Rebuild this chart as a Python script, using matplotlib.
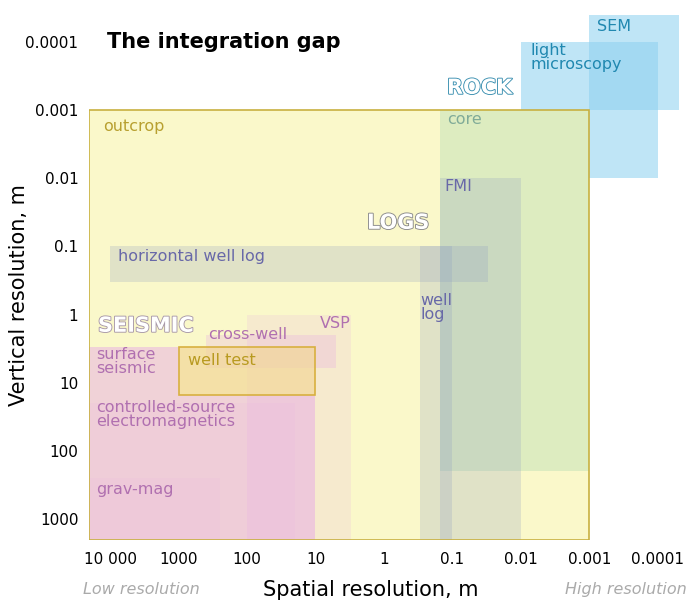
import matplotlib
matplotlib.use('Agg')
import matplotlib.pyplot as plt
import matplotlib.patheffects as pe
from matplotlib.patches import Rectangle


# Resolution windows of each method, in metres.
# Spatial goes coarse -> fine, vertical goes fine -> coarse.
methods = ['outcrop', 'surface seismic', 'cross-well', 'VSP', 'csem', 'grav-mag',
           'horizontal well log', 'well log', 'FMI', 'core',
           'light microscopy', 'thin section', 'SEM', 'well test']
groups = ['field', 'seismic', 'seismic', 'seismic', 'seismic', 'seismic',
          'logs', 'logs', 'logs', 'core', 'rock', 'rock', 'rock', 'test']
spatial_coarse = [2e4, 2e4, 400, 100, 2e4, 2e4, 1e4, 0.3, 0.15, 0.15, 0.01, 0.001, 0.001, 1000]
spatial_fine = [0.001, 10, 5, 3, 20, 250, 0.03, 0.1, 0.01, 0.001, 1e-4, 1e-4, 5e-5, 10]
vertical_fine = [0.001, 3, 2, 1, 20, 250, 0.1, 0.1, 0.01, 0.001, 1e-4, 0.001, 4e-5, 3]
vertical_coarse = [2000, 2000, 6, 2000, 2000, 2000, 0.33, 2000, 2000, 200, 0.001, 0.01, 0.001, 15]

# Text labels for the methods and where they sit (data coords, left / middle).
label_text = ['outcrop', 'core', 'FMI', 'horizontal well log', 'well\nlog', 'VSP',
              'cross-well', 'surface\nseismic', 'well test',
              'controlled-source\nelectromagnetics', 'grav-mag',
              'light\nmicroscopy', 'SEM']
label_group = ['field', 'core', 'logs', 'logs', 'logs', 'seismic',
               'seismic', 'seismic', 'test', 'seismic', 'seismic', 'rock', 'rock']
label_x = [12600, 0.12, 0.13, 7600, 0.29, 8.6, 370, 16000, 730, 16000, 16000, 0.0072, 0.00078]
label_y = [0.00176, 0.00135, 0.0134, 0.142, 0.79, 1.36, 1.98, 4.9, 4.8, 29, 370, 1.7e-4, 6e-5]

# Outlined group headings.
heading_text = ['ROCK', 'LOGS', 'SEISMIC']
heading_x = [0.12, 1.77, 15000]
heading_y = [4.7e-4, 0.045, 1.46]

x_ticks = [1e4, 1e3, 100, 10, 1, 0.1, 0.01, 0.001, 1e-4]
x_ticklabels = ['10 000', '1000', '100', '10', '1', '0.1', '0.01', '0.001', '0.0001']
y_ticks = [1e-4, 1e-3, 0.01, 0.1, 1, 10, 100, 1000]
y_ticklabels = ['0.0001', '0.001', '0.01', '0.1', '1', '10', '100', '1000']

STYLE = {
    'field': dict(face='#f6f08a', alpha=0.45, z=1, text='#b8a030'),
    'seismic': dict(face='#e08cf0', alpha=0.35, z=2, text='#b070b0'),
    'core': dict(face='#a8d8b0', alpha=0.35, z=3, text='#80ab98'),
    'logs': dict(face='#8898c0', alpha=0.22, z=4, text='#6868a8'),
    'rock': dict(face='#8cd0f0', alpha=0.55, z=3, text='#2088b0'),
    'test': dict(face='#f8ec80', alpha=0.55, z=5, text='#b89a20'),
}
# the seismic boxes stacked on surface seismic are only faintly tinted
ALPHA = {'cross-well': 0.2, 'VSP': 0.12, 'csem': 0.06, 'grav-mag': 0.06}
HEADING_COLOR = {'ROCK': '#3a8fb0', 'LOGS': '#8a8a8a', 'SEISMIC': '#a898a8'}
EDGE = {'field': '#c8b040', 'test': '#d8b040'}


def add_box(ax, i):
    st = STYLE[groups[i]]
    x0, x1 = spatial_fine[i], spatial_coarse[i]
    y0, y1 = vertical_fine[i], vertical_coarse[i]
    alpha = ALPHA.get(methods[i], st['alpha'])
    ax.add_patch(Rectangle((x0, y0), x1 - x0, y1 - y0, facecolor=st['face'],
                           alpha=alpha, edgecolor='none', zorder=st['z']))
    if groups[i] in EDGE:
        # outline goes on top of everything else
        ax.add_patch(Rectangle((x0, y0), x1 - x0, y1 - y0, facecolor='none',
                               edgecolor=EDGE[groups[i]], lw=1.2, zorder=10))


fig = plt.figure(figsize=(6.89, 6.03), dpi=100)
ax = fig.add_axes([0.1298, 0.1053, 0.855, 0.87])
ax.set_xscale('log')
ax.set_yscale('log')
ax.set_xlim(2e4, 5e-5)
ax.set_ylim(2000, 4e-5)

for i in range(len(methods)):
    add_box(ax, i)

for t, g, x, y in zip(label_text, label_group, label_x, label_y):
    ax.text(x, y, t, color=STYLE[g]['text'], fontsize=11.5, ha='left', va='center',
            linespacing=0.9, zorder=20)

for t, x, y in zip(heading_text, heading_x, heading_y):
    ax.text(x, y, t, color='white', fontsize=15, fontweight='bold', ha='left',
            va='center', zorder=21,
            path_effects=[pe.withStroke(linewidth=1.3, foreground=HEADING_COLOR[t])])

ax.text(11000, 1e-4, 'The integration gap', fontsize=15, fontweight='bold',
        ha='left', va='center', zorder=21)

ax.set_xticks(x_ticks)
ax.set_xticklabels(x_ticklabels)
ax.set_yticks(y_ticks)
ax.set_yticklabels(y_ticklabels)
ax.minorticks_off()
ax.tick_params(which='both', length=0, labelsize=11)
ax.tick_params(axis='x', pad=9)
ax.tick_params(axis='y', pad=8)
for s in ax.spines.values():
    s.set_visible(False)

fig.text(0.538, 0.0216, 'Spatial resolution, m', fontsize=15, ha='center', va='center')
fig.text(0.027, 0.511, 'Vertical resolution, m', fontsize=15, ha='center', va='center',
         rotation=90)
fig.text(0.205, 0.0216, 'Low resolution', fontsize=11.5, style='italic',
         color='#aaaaaa', ha='center', va='center')
fig.text(0.909, 0.0216, 'High resolution', fontsize=11.5, style='italic',
         color='#aaaaaa', ha='center', va='center')

fig.savefig('out.png', dpi=100)
